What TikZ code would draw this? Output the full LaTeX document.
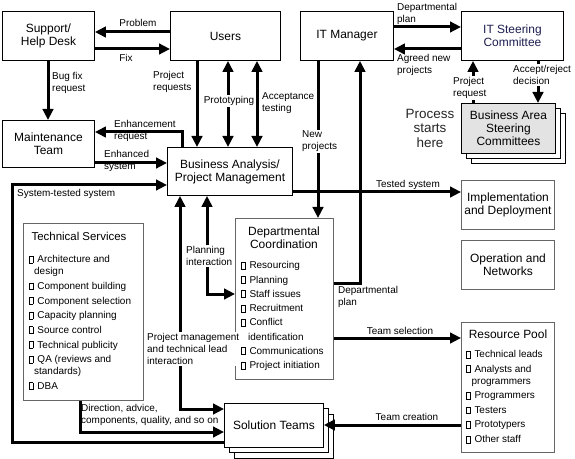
\documentclass[tikz,border=0pt]{standalone}
\usepackage{fontspec}
\setmainfont{Liberation Sans}
\usetikzlibrary{arrows.meta}
\definecolor{navyish}{RGB}{30,30,80}
\newcommand{\chk}{{\fboxsep=0pt\fboxrule=0.4bp\fbox{\rule{0pt}{6.5bp}\hspace{3.5bp}}}\hspace{4bp}}
\tikzset{
  mainbox/.style={draw=black, line width=0.9bp, fill=white, anchor=north west, inner sep=0pt,
    font=\fontsize{12}{13}\selectfont, align=center},
  listbox/.style={mainbox, draw=black!60},
  arrw/.style={line width=3bp, -{Triangle[length=11bp,width=10.5bp]}},
  darrw/.style={line width=3bp, {Triangle[length=11bp,width=10.5bp]}-{Triangle[length=11bp,width=10.5bp]}},
  lbl/.style={font=\fontsize{10}{12}\selectfont, inner sep=0pt, align=left},
  wlbl/.style={lbl, fill=white, inner sep=1bp},
  lst/.style={font=\fontsize{10}{12}\selectfont, inner sep=0pt, align=left, anchor=north west},
}
\begin{document}
\begin{tikzpicture}[x=1bp,y=-1bp]
\useasboundingbox (0,0) rectangle (575,459);

% boxes
\node[mainbox, minimum width=92bp, minimum height=49bp] (sup) at (2,11) {Support/\\Help Desk};
\node[mainbox, minimum width=110bp, minimum height=49bp] (users) at (170,11) {Users};
\node[mainbox, minimum width=93bp, minimum height=49bp] (itm) at (300,11) {IT Manager};
\node[mainbox, minimum width=102bp, minimum height=49bp, text=navyish] (itsc) at (461,11) {IT Steering\\Committee};
\node[mainbox, minimum width=92bp, minimum height=47bp] (mt) at (2,120) {Maintenance\\Team};
\node[mainbox, minimum width=125bp, minimum height=48bp] (ba) at (167,147) {Business Analysis/\\Project Management};

\node[mainbox, minimum width=94bp, minimum height=50bp] (basc3) at (471,113) {};
\node[mainbox, minimum width=94bp, minimum height=50bp] (basc2) at (466,108) {};
\node[mainbox, minimum width=94bp, minimum height=50bp, fill=gray!22] (basc) at (461,103) {Business Area\\Steering\\Committees};
\node[font=\fontsize{13.5}{14.5}\selectfont, align=center, inner sep=0pt, text=black!85] (pst) at (430,128) {Process\\starts\\here};

\node[listbox, minimum width=93bp, minimum height=49bp] (impl) at (461,180) {Implementation\\and Deployment};
\node[listbox, minimum width=93bp, minimum height=49bp] (opn) at (461,240) {Operation and\\Networks};

\node[listbox, minimum width=93bp, minimum height=130bp] (rp) at (461,322) {};
\node[font=\fontsize{12}{13}\selectfont, inner sep=0pt] (rpt) at (508,334) {Resource Pool};
\node[lst] (rpl) at (466,350.4) {\chk Technical leads\\[2.6bp]
\chk Analysts and\\ \hspace*{5.5bp}programmers\\[2.6bp]
\chk Programmers\\[2.6bp]
\chk Testers\\[2.6bp]
\chk Prototypers\\[2.6bp]
\chk Other staff};

\node[listbox, minimum width=98bp, minimum height=161bp] (dc) at (235,218) {};
\node[font=\fontsize{12}{13}\selectfont, align=center, inner sep=0pt] (dct) at (284,238) {Departmental\\Coordination};
\node[lst, font=\fontsize{10}{14.3}\selectfont] (dcl) at (241,261.4) {\chk Resourcing\\
\chk Planning\\
\chk Staff issues\\
\chk Recruitment\\
\chk Conflict\\ \hspace*{7bp}identification\\
\chk Communications\\
\chk Project initiation};

\node[listbox, minimum width=120bp, minimum height=177bp] (ts) at (23,223) {};
\node[font=\fontsize{11.5}{13}\selectfont, inner sep=0pt] (tst) at (79,236) {Technical Services};
\node[lst] (tsl) at (29,255.4) {\chk Architecture and\\ \hspace*{5bp}design\\[2.7bp]
\chk Component building\\[2.7bp]
\chk Component selection\\[2.7bp]
\chk Capacity planning\\[2.7bp]
\chk Source control\\[2.7bp]
\chk Technical publicity\\[2.7bp]
\chk QA (reviews and\\ \hspace*{5bp}standards)\\[2.7bp]
\chk DBA};

\node[mainbox, minimum width=99bp, minimum height=44bp] (st3) at (234,414) {};
\node[mainbox, minimum width=99bp, minimum height=44bp] (st2) at (229,408) {};
\node[mainbox, minimum width=99bp, minimum height=44bp] (st) at (224,403) {Solution Teams};

% helper coordinates
\coordinate (xBF) at (48,0);
\coordinate (xPR) at (197,0);
\coordinate (xPT) at (228,0);
\coordinate (xAT) at (257,0);
\coordinate (xEN) at (182,0);
\coordinate (xNP) at (318,0);
\coordinate (xDP) at (360,0);
\coordinate (xPJ) at (473,0);
\coordinate (xAR) at (538,0);
\coordinate (xPM) at (180,0);
\coordinate (xPI) at (207,0);
\coordinate (xTS) at (80,0);
\coordinate (xST) at (12,0);
\coordinate (yProb) at (0,32);
\coordinate (yFix) at (0,49);
\coordinate (yEnh) at (0,132);
\coordinate (yEnd) at (0,163);
\coordinate (ySys) at (0,185);
\coordinate (yTest) at (0,192);
\coordinate (yDP) at (0,27);
\coordinate (yAg) at (0,49);
\coordinate (yPI) at (0,294);
\coordinate (yDPl) at (0,283);
\coordinate (yTsel) at (0,338);
\coordinate (yTcr) at (0,425);
\coordinate (yDir) at (0,432);
\coordinate (yPM) at (0,409);
\coordinate (ySTb) at (0,442);

% connectors
\draw[arrw] (users.west |- yProb) -- (sup.east |- yProb);
\draw[arrw] (sup.east |- yFix) -- (users.west |- yFix);
\draw[arrw] (sup.south -| xBF) -- (mt.north -| xBF);
\draw[arrw] (users.south -| xPR) -- (ba.north -| xPR);
\draw[darrw] (users.south -| xPT) -- (ba.north -| xPT);
\draw[darrw] (users.south -| xAT) -- (ba.north -| xAT);
\draw[arrw] (ba.north -| xEN) |- (mt.east |- yEnh);
\draw[arrw] (mt.east |- yEnd) -- (ba.west |- yEnd);
\draw[arrw] (st.west |- ySTb) -| (xST |- ySys) -- (ba.west |- ySys);
\draw[arrw] (ba.east |- yTest) -- (impl.west |- yTest);
\draw[arrw] (itm.east |- yDP) -- (itsc.west |- yDP);
\draw[arrw] (itsc.west |- yAg) -- (itm.east |- yAg);
\draw[arrw] (basc.north -| xPJ) -- (itsc.south -| xPJ);
\draw[arrw] (itsc.south -| xAR) -- (basc.north -| xAR);
\draw[arrw] (itm.south -| xNP) -- (dc.north -| xNP);
\draw[arrw] (dc.east |- yDPl) -| (itm.south -| xDP);
\draw[darrw] (ba.south -| xPI) |- (dc.west |- yPI);
\draw[darrw] (ba.south -| xPM) |- (st.west |- yPM);
\draw[arrw] (ts.south -| xTS) |- (st.west |- yDir);
\draw[arrw] (dc.east |- yTsel) -- (rp.west |- yTsel);
\draw[arrw] (rp.west |- yTcr) -- (st.east |- yTcr);

% labels
\node[lbl] (lprob) at (138,23) {Problem};
\node[lbl] (lfix) at (126,58) {Fix};
\node[lbl, anchor=west] (lbug) at (52,83) {Bug fix\\request};
\node[lbl, anchor=west] (lpreq) at (153,82) {Project\\requests};
\node[wlbl] (lproto) at (229,101) {Prototyping};
\node[lbl, anchor=west] (lacc) at (262,103) {Acceptance\\testing};
\node[lbl, anchor=west] (lenh) at (114,131) {Enhancement\\request};
\node[lbl, anchor=west] (lens) at (104,161) {Enhanced\\system};
\node[lbl, anchor=west] (lsts) at (17,194) {System-tested system};
\node[lbl] (ltest) at (408,185) {Tested system};
\node[lbl, anchor=west] (ldp1) at (397,14) {Departmental\\plan};
\node[lbl, anchor=west] (lagr) at (397,65) {Agreed new\\projects};
\node[wlbl, anchor=west] (lpjr) at (452,88) {Project\\request};
\node[wlbl, anchor=west] (lacr) at (512,75) {Accept/reject\\decision};
\node[wlbl, anchor=west] (lnp) at (301,141.5) {New\\projects};
\node[lbl, anchor=west] (ldp2) at (338,297) {Departmental\\plan};
\node[wlbl, anchor=west] (lpi) at (185,256) {Planning\\interaction};
\node[wlbl, anchor=west] (lpm) at (146,349) {Project management\\and technical lead\\interaction};
\node[lbl, anchor=west] (ldir) at (81,415) {Direction, advice,\\components, quality, and so on};
\node[lbl] (ltsel) at (400,331) {Team selection};
\node[lbl] (ltcr) at (407,417) {Team creation};
\end{tikzpicture}
\end{document}
